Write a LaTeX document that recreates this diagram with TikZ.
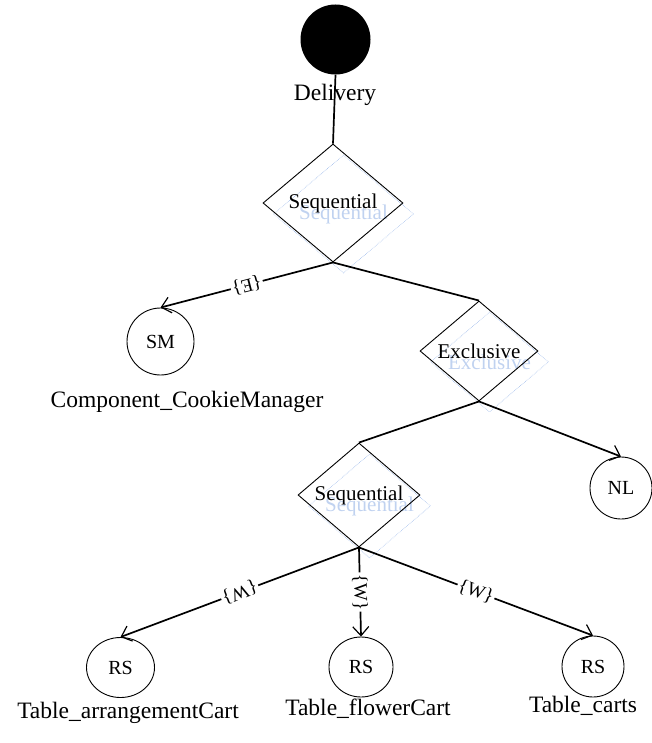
\documentclass[tikz,border=0pt]{standalone}
\usepackage{fontspec}
\setmainfont{Liberation Serif}
\usetikzlibrary{shapes.geometric,arrows.meta}
\definecolor{shadowline}{RGB}{160,188,235}
\definecolor{shadowtext}{RGB}{192,210,240}
\begin{document}
\begin{tikzpicture}[x=1pt,y=-1pt,
  gate/.style={draw,diamond,shape aspect=1.2,inner sep=0pt,line width=0.9pt,
    font=\fontsize{21}{24}\selectfont},
  gateshadow/.style={gate,draw=shadowline,line width=0.6pt,densely dotted,text=shadowtext},
  leaf/.style={draw,ellipse,inner sep=0pt,line width=0.9pt,font=\fontsize{20}{24}\selectfont},
  caption/.style={font=\fontsize{23.5}{26}\selectfont,inner sep=0pt,anchor=base},
  edge/.style={line width=1.7pt},
  flow/.style={edge,-{Straight Barb[length=9pt,width=16pt,line width=1.2pt]}},
  elabel/.style={sloped,allow upside down,fill=white,inner sep=1.5pt,
    font=\fontsize{19}{22}\selectfont},
]
\useasboundingbox (0,0) rectangle (652,743);

% start node
\node[circle,fill=black,minimum size=70pt,inner sep=0pt] (root) at (335.5,39.5) {};
\node[caption] (rootlbl) at (335,100.5) {Delivery};

% gateways with their pale offset copies
\node[gateshadow,minimum width=140pt,minimum height=118pt] (d1s) at (343.5,214) {Sequential};
\node[gate,minimum width=140pt,minimum height=118pt] (d1) at (333,203) {Sequential};

\node[gateshadow,minimum width=118pt,minimum height=100pt] (exs) at (489.5,362) {Exclusive};
\node[gate,minimum width=118pt,minimum height=100pt] (ex) at (479,351) {Exclusive};

\node[gateshadow,minimum width=122pt,minimum height=104pt] (d2s) at (369.5,506) {Sequential};
\node[gate,minimum width=122pt,minimum height=104pt] (d2) at (359,495) {Sequential};

% leaves
\node[leaf,minimum width=67pt,minimum height=67pt] (sm) at (160.5,341.5) {SM};
\node[caption] (smlbl) at (187,407) {Component\_CookieManager};

\node[leaf,minimum width=62pt,minimum height=62pt] (nl) at (621,488) {NL};

\node[leaf,minimum width=68pt,minimum height=60pt] (rs1) at (120.5,667.5) {RS};
\node[caption] (rs1lbl) at (128,718) {Table\_arrangementCart};
\node[leaf,minimum width=64pt,minimum height=60pt] (rs2) at (361,667) {RS};
\node[caption] (rs2lbl) at (368,715) {Table\_flowerCart};
\node[leaf,minimum width=62pt,minimum height=61pt] (rs3) at (593,666.5) {RS};
\node[caption] (rs3lbl) at (583,712) {Table\_carts};

% connectors
\draw[edge] (root.south) -- (d1.north);
\draw[flow] (d1.south) -- node[elabel] (le) {\{E\}} (sm.north);
\draw[edge] (d1.south) -- (ex.north);
\draw[edge] (ex.south) -- (d2.north);
\draw[flow] (ex.south) -- (nl.north);
\draw[flow] (d2.south) -- node[elabel] (lw1) {\{W\}} (rs1.north);
\draw[flow] (d2.south) -- node[elabel] (lw2) {\{W\}} (rs2.north);
\draw[flow] (d2.south) -- node[elabel] (lw3) {\{W\}} (rs3.north);
\end{tikzpicture}
\end{document}
